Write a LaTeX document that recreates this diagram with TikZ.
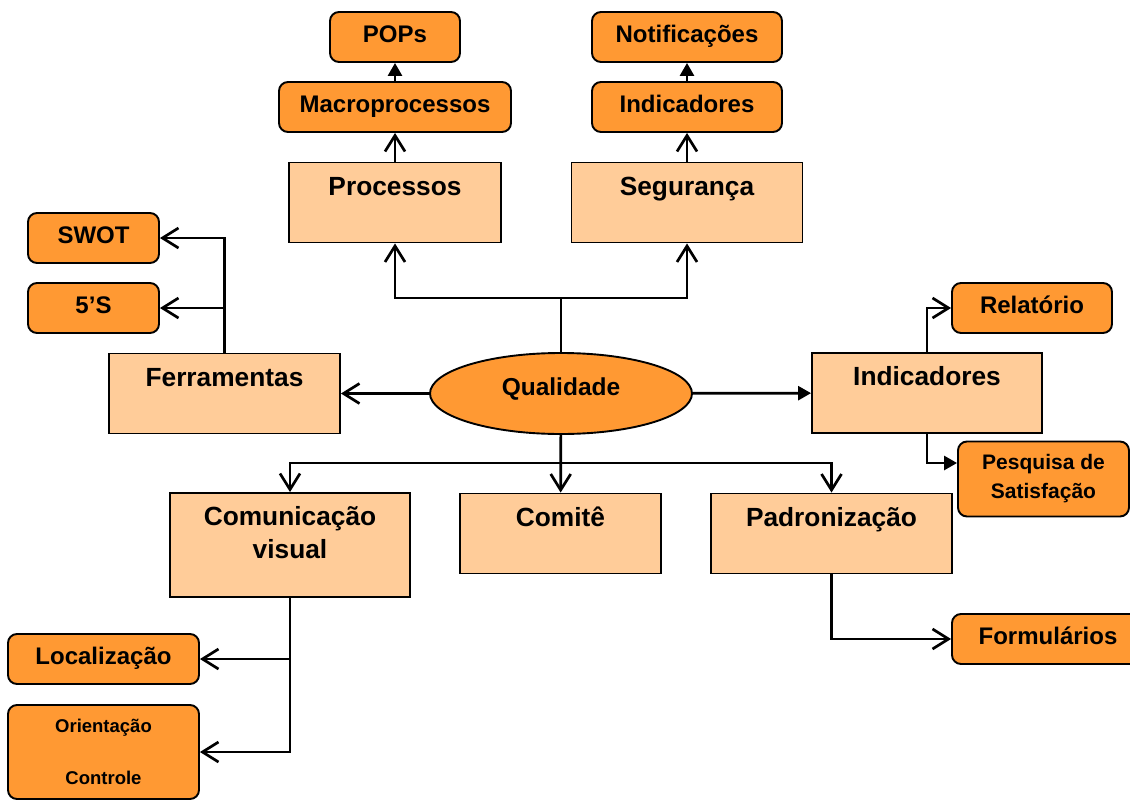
\documentclass[tikz,border=0pt]{standalone}
\usepackage{fontspec}
\setmainfont{Liberation Sans}
\usetikzlibrary{arrows.meta,shapes.geometric,positioning}
\definecolor{lightorange}{RGB}{255,204,153}
\definecolor{darkorange}{RGB}{255,153,51}

\begin{document}
\begin{tikzpicture}[x=1pt,y=-1pt,line width=2.7pt,
  >={Straight Barb[length=16pt,width=20pt]},
  big node/.style={rectangle,draw,fill=lightorange,line width=1.9pt,
    font=\bfseries\fontsize{26.3}{31}\selectfont,
    inner ysep=14.1pt,text height=18.8pt,text depth=33pt},
  small box/.style={rectangle,rounded corners=9pt,draw,fill=darkorange,
    line width=1.9pt,align=center},
  small node/.style={small box,font=\bfseries\fontsize{24}{29}\selectfont,
    minimum height=50pt,text height=17.2pt,text depth=6pt},
  fill tip/.style={-{Triangle[length=13pt,width=14pt]}}]

\useasboundingbox (0,0) rectangle (1130,800);

\node[small node,minimum width=130pt] (pops) at (395,37) {POPs};
\node[small node,minimum width=232pt] (macro) at (395,107) {Macroprocessos};
\node[big node,minimum width=212pt] (proc) at (395,202.5) {Processos};
\node[small node,minimum width=190pt] (notif) at (687,37) {Notificações};
\node[small node,minimum width=190pt] (indseg) at (687,107) {Indicadores};
\node[big node,minimum width=231pt] (seg) at (687,202.5) {Segurança};

\node[ellipse,draw,fill=darkorange,line width=1.9pt,inner sep=0pt,
  minimum width=262pt,minimum height=81pt,
  font=\bfseries\fontsize{24.5}{29}\selectfont,
  text height=17.5pt,text depth=14pt] (qual) at (561,393.5) {Qualidade};

\node[big node,minimum width=231pt] (ferr) at (224.5,393.5) {Ferramentas};
\node[small node,minimum width=131pt] (swot) at (93.5,238) {SWOT};
\node[small node,minimum width=131pt] (cincos) at (93.5,308) {5’S};

\node[big node,minimum width=230pt] (indq) at (927,393) {Indicadores};
\node[small node,minimum width=160pt] (rel) at (1032,308) {Relatório};
\node[small box,font=\bfseries\fontsize{21}{29}\selectfont,
  minimum width=171pt,minimum height=75pt] (pesq) at (1043.5,479)
  {Pesquisa de\\Satisfação};

\node[big node,minimum width=240pt,text depth=57pt] (comun) at (290,545)
  {\begin{tabular}[t]{@{}c@{}}Comunicação\\[2pt]visual\end{tabular}};
\node[big node,minimum width=201pt] (comite) at (560.5,533.5) {Comitê};
\node[big node,minimum width=241pt] (padr) at (831.5,533.5) {Padronização};

\node[small node,minimum width=191pt] (loc) at (103.5,659) {Localização};
\node[small box,font=\bfseries\fontsize{18.5}{26}\selectfont,
  minimum width=191pt,minimum height=94pt] (orient) at (103.5,752)
  {Orientação\\[26pt]Controle};
\node[small node,minimum width=192pt] (form) at (1048,639) {Formulários};

\coordinate (topfork) at (561,298);
\coordinate (botfork) at (561,463);

\path[->]
  (proc) edge (macro)
  (seg) edge (indseg)
  (qual) edge (ferr)
  (qual) edge (comite);
\path[fill tip]
  (macro) edge (pops)
  (indseg) edge (notif)
  (qual) edge (indq);

\draw[->] (qual.north) -- (topfork) -| (proc.south);
\draw[->] (topfork) -| (seg.south);
\draw[->] (ferr.north) |- (swot.east);
\draw[->] (ferr.north) |- (cincos.east);
\draw[->] (indq.north) |- (rel.west);
\draw[fill tip] (indq.south) |- ([yshift=16pt]pesq.west);
\draw[->] (botfork) -| (comun.north);
\draw[->] (botfork) -| (padr.north);
\draw[->] (comun.south) |- (loc.east);
\draw[->] (comun.south) |- (orient.east);
\draw[->] (padr.south) |- (form.west);
\end{tikzpicture}
\end{document}
